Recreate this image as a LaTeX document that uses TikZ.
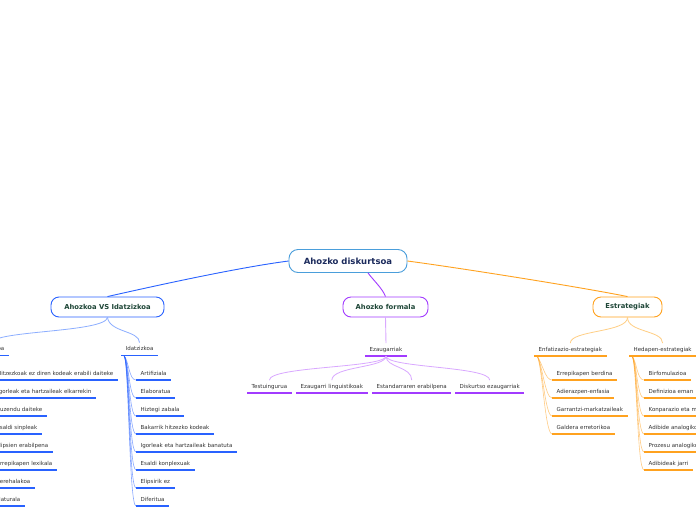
\documentclass[tikz,border=0pt]{standalone}
\usepackage{fontspec}
\setmainfont{DejaVu Sans}
\usepackage{tikz}

\definecolor{rootline}{HTML}{4A9EDB}
\definecolor{roottext}{HTML}{1B2A5C}
\definecolor{boxtext}{HTML}{1E4637}
\definecolor{leaftext}{HTML}{333333}
\definecolor{blueline}{HTML}{2962FF}
\definecolor{lightblue}{HTML}{8CAEFF}
\definecolor{purpleline}{HTML}{A23BFF}
\definecolor{lightpurple}{HTML}{D9A8FF}
\definecolor{orangeline}{HTML}{FFA21F}
\definecolor{lightorange}{HTML}{FFCF85}

\tikzset{
  topic/.style={draw=#1, line width=0.9pt, rounded corners=8pt, fill=white,
    font=\bfseries\fontsize{6.8}{7}\selectfont, text=boxtext,
    minimum height=20pt, inner sep=0pt},
  leaf/.style={font=\fontsize{5.5}{6}\selectfont, text=leaftext,
    inner xsep=4.5pt, inner ysep=3.7pt, text height=4pt, text depth=1.1pt,
    append after command={(\tikzlastnode.south west) edge [draw=#1, line width=1.2pt] (\tikzlastnode.south east)}},
  bundle/.style={draw=#1, line width=0.6pt, opacity=0.55},
}

\begin{document}
\begin{tikzpicture}[x=1pt, y=-1pt]
	\clip (0, 0) rectangle (696, 520);
	\fill [white] (0, 0) rectangle (696, 520);

	\node (root) at (348, 261) [topic=rootline, font=\bfseries\fontsize{8.5}{9}\selectfont, text=roottext, minimum width=118pt, minimum height=23pt, rounded corners=9pt] {Ahozko diskurtsoa};
	\node (vs) at (107.5, 307) [topic=blueline, minimum width=113pt] {Ahozkoa VS Idatzizkoa};
	\node (formal) at (385.5, 307) [topic=purpleline, minimum width=85pt] {Ahozko formala};
	\node (estr) at (627.5, 307) [topic=orangeline, minimum width=69pt] {Estrategiak};

	\draw [blueline, line width=0.9pt] (root.west) .. controls (235, 268) and (150, 287) .. (vs.north);
	\draw [orangeline, line width=0.9pt] (root.east) .. controls (460, 268) and (580, 287) .. (estr.north);
	\draw [purpleline, line width=0.9pt] ([xshift=20pt]root.south) .. controls +(6, 8) and +(-3, -8) .. (formal.north);

	\node (ahoz) at (9, 355.5) [leaf=blueline, anchor=south east] {Ahozkoa};
	\node (idatz) at (121, 355.5) [leaf=blueline, anchor=south west] {Idatzizkoa};
	\draw [lightblue, line width=0.8pt] (vs.south) .. controls +(-2, 15) and +(0, -12) .. (ahoz.north);
	\draw [lightblue, line width=0.8pt] (vs.south) .. controls +(2, 15) and +(0, -12) .. (idatz.north);

	\node (a1) at (118, 380) [leaf=blueline, anchor=south east] {Hitzezkoak ez diren kodeak erabili daiteke};
	\node (a2) at (96, 398) [leaf=blueline, anchor=south east] {Igorleak eta hartzaileak elkarrekin};
	\node (a3) at (47, 416) [leaf=blueline, anchor=south east] {Zuzendu daiteke};
	\node (a4) at (42, 434) [leaf=blueline, anchor=south east] {Esaldi sinpleak};
	\node (a5) at (53, 452) [leaf=blueline, anchor=south east] {Elipsien erabilpena};
	\node (a6) at (57, 470) [leaf=blueline, anchor=south east] {Errepikapen lexikala};
	\node (a7) at (35, 488) [leaf=blueline, anchor=south east] {Berehalakoa};
	\node (a8) at (25, 506) [leaf=blueline, anchor=south east] {Naturala};

	\node (i1) at (136, 380) [leaf=blueline, anchor=south west] {Artifiziala};
	\node (i2) at (136, 398) [leaf=blueline, anchor=south west] {Elaboratua};
	\node (i3) at (136, 416) [leaf=blueline, anchor=south west] {Hiztegi zabala};
	\node (i4) at (136, 434) [leaf=blueline, anchor=south west] {Bakarrik hitzezko kodeak};
	\node (i5) at (136, 452) [leaf=blueline, anchor=south west] {Igorleak eta hartzaileak banatuta};
	\node (i6) at (136, 470) [leaf=blueline, anchor=south west] {Esaldi konplexuak};
	\node (i7) at (136, 488) [leaf=blueline, anchor=south west] {Elipsirik ez};
	\node (i8) at (136, 506) [leaf=blueline, anchor=south west] {Diferitua};

	\foreach \c in {a1, a2, a3, a4, a5, a6, a7, a8}
		\draw [bundle=blueline] ([xshift=3pt]ahoz.south west) .. controls +(5, 6) and +(-7, 0) .. (\c.south west);
	\foreach \c in {i1, i2, i3, i4, i5, i6, i7, i8}
		\draw [bundle=blueline] ([xshift=3pt]idatz.south west) .. controls +(5, 6) and +(-7, 0) .. (\c.south west);

	\node (ezaug) at (365, 356) [leaf=purpleline, anchor=south west] {Ezaugarriak};
	\draw [lightpurple, line width=0.9pt] (formal.south) -- (ezaug.north);

	\node (e1) at (247, 393) [leaf=purpleline, anchor=south west] {Testuingurua};
	\node (e2) at (296, 393) [leaf=purpleline, anchor=south west] {Ezaugarri linguistikoak};
	\node (e3) at (372, 393) [leaf=purpleline, anchor=south west] {Estandarraren erabilpena};
	\node (e4) at (455, 393) [leaf=purpleline, anchor=south west] {Diskurtso ezaugarriak};
	\foreach \c in {e1, e2, e3, e4}
		\draw [lightpurple, line width=0.8pt] (ezaug.south) .. controls +(0, 12) and +(0, -14) .. (\c.north);

	\node (enfat) at (534, 356) [leaf=orangeline, anchor=south west] {Enfatizazio-estrategiak};
	\node (hedap) at (629, 356) [leaf=orangeline, anchor=south west] {Hedapen-estrategiak};
	\draw [lightorange, line width=0.8pt] (estr.south) .. controls +(0, 15) and +(0, -13) .. (enfat.north);
	\draw [lightorange, line width=0.8pt] (estr.south) .. controls +(0, 15) and +(0, -13) .. (hedap.north);

	\node (f1) at (552, 380) [leaf=orangeline, anchor=south west] {Errepikapen berdina};
	\node (f2) at (552, 398) [leaf=orangeline, anchor=south west] {Adierazpen-enfasia};
	\node (f3) at (552, 416) [leaf=orangeline, anchor=south west] {Garrantzi-markatzaileak};
	\node (f4) at (552, 434) [leaf=orangeline, anchor=south west] {Galdera erretorikoa};

	\node (h1) at (644, 380) [leaf=orangeline, anchor=south west] {Birfomulazioa};
	\node (h2) at (644, 398) [leaf=orangeline, anchor=south west] {Definizioa eman};
	\node (h3) at (644, 416) [leaf=orangeline, anchor=south west] {Konparazio eta metaforak};
	\node (h4) at (644, 434) [leaf=orangeline, anchor=south west] {Adibide analogikoak};
	\node (h5) at (644, 452) [leaf=orangeline, anchor=south west] {Prozesu analogikoak};
	\node (h6) at (644, 470) [leaf=orangeline, anchor=south west] {Adibideak jarri};

	\foreach \c in {f1, f2, f3, f4}
		\draw [bundle=orangeline] ([xshift=3pt]enfat.south west) .. controls +(5, 6) and +(-7, 0) .. (\c.south west);
	\foreach \c in {h1, h2, h3, h4, h5, h6}
		\draw [bundle=orangeline] ([xshift=3pt]hedap.south west) .. controls +(5, 6) and +(-7, 0) .. (\c.south west);
\end{tikzpicture}
\end{document}
